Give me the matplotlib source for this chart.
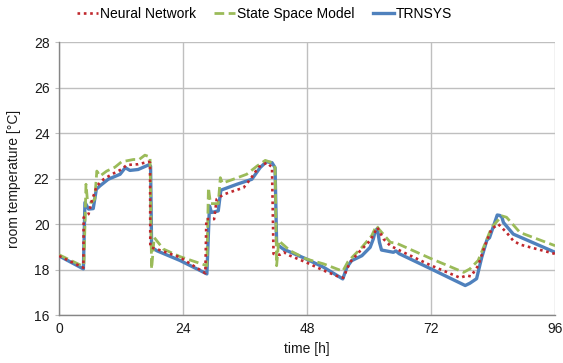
import matplotlib
matplotlib.use('Agg')
import matplotlib.pyplot as plt

# ── Data (time [h], room temperature [°C]) ────────────────────────────────────
trnsys_t = [0, 4.7, 5.0, 5.7, 6.6, 7.2, 7.9, 9.5, 11.8, 12.8, 13.7, 15.3, 17.3, 17.7,
            17.9, 18.9, 23.4, 28.6, 29.1, 29.5, 30.8, 31.3, 34.4, 37.3, 38.9, 40.1,
            41.2, 41.8, 42.1, 43.4, 47.8, 51.2, 54.9, 55.7, 56.6, 58.6, 60.2, 60.8,
            61.2, 61.6, 62.0, 62.4, 64.7, 65.2, 65.8, 71.8, 78.6, 79.5, 80.8, 81.8,
            82.8, 83.3, 84.1, 84.8, 85.3, 85.7, 86.0, 87.9, 96]
trnsys_T = [18.6, 18.03, 20.95, 20.66, 20.68, 21.53, 21.68, 21.97, 22.19, 22.48, 22.36,
            22.4, 22.6, 22.55, 18.98, 18.83, 18.4, 17.81, 20.8, 20.51, 20.58, 21.49,
            21.75, 21.97, 22.48, 22.74, 22.7, 22.48, 19.12, 18.9, 18.47, 18.1, 17.59,
            18.1, 18.39, 18.61, 18.98, 19.34, 19.7, 19.8, 19.2, 18.86, 18.76, 18.82,
            18.7, 18.05, 17.3, 17.4, 17.6, 18.54, 19.3, 19.4, 19.93, 20.4, 20.38,
            20.3, 20.07, 19.56, 18.76]

nn_t = [0, 4.7, 4.75, 5.7, 6.3, 7.3, 8.6, 10.2, 12.1, 13.1, 15.3, 17.3, 17.6, 17.65,
        18.9, 23.4, 28.3, 28.5, 30.0, 30.5, 31.8, 33.7, 35.7, 37.0, 38.6, 40.2, 41.2,
        41.5, 42.7, 43.5, 44.7, 47.8, 51.2, 54.4, 55.0, 56.3, 58.3, 60.2, 61.6, 62.8,
        64.1, 66.0, 71.8, 77.6, 78.9, 79.7, 81.1, 82.4, 83.7, 85.0, 86.6, 87.9, 89.2, 96]
nn_T = [18.6, 18.08, 20.29, 20.44, 21.0, 21.68, 21.97, 22.19, 22.41, 22.6, 22.63, 22.74,
        22.7, 18.98, 18.9, 18.54, 17.84, 20.22, 20.22, 21.1, 21.3, 21.45, 21.6, 21.97,
        22.5, 22.7, 22.5, 18.69, 18.65, 18.76, 18.61, 18.32, 17.96, 17.66, 17.64, 18.32,
        18.83, 19.27, 19.85, 19.34, 19.05, 18.83, 18.2, 17.64, 17.74, 17.7, 18.17, 19.05,
        19.78, 20.0, 19.63, 19.27, 19.1, 18.69]

ssm_t = [0, 4.4, 4.8, 5.2, 5.5, 6.3, 6.9, 7.3, 7.9, 9.2, 10.8, 12.1, 14.4, 15.5, 16.6,
         17.6, 17.9, 18.4, 20.2, 23.4, 28.6, 28.9, 29.3, 30.8, 31.2, 31.6, 33.7, 36.3,
         38.3, 39.9, 41.2, 41.8, 42.1, 42.5, 44.7, 47.8, 51.2, 54.9, 55.9, 58.6, 60.5,
         61.4, 62.0, 64.1, 65.4, 71.8, 78.3, 79.5, 81.1, 82.4, 83.7, 85.7, 86.6, 89.2, 96]
ssm_T = [18.65, 18.17, 18.2, 21.75, 21.0, 20.95, 21.1, 22.33, 22.11, 22.33, 22.5, 22.74,
         22.84, 22.84, 23.03, 22.95, 18.03, 19.41, 18.9, 18.57, 18.17, 21.6, 20.9, 20.9,
         22.04, 21.8, 21.97, 22.19, 22.55, 22.8, 22.7, 22.48, 18.17, 19.27, 18.83, 18.47,
         18.25, 17.93, 18.35, 18.98, 19.49, 19.93, 19.75, 19.2, 19.15, 18.5, 17.88, 18.03,
         18.4, 19.12, 19.85, 20.36, 20.3, 19.63, 19.05]

x_ticks = [0, 24, 48, 72, 96]
y_ticks = [16, 18, 20, 22, 24, 26, 28]

# ── Figure ────────────────────────────────────────────────────────────────────
plt.rcParams['font.family'] = ['Liberation Sans', 'DejaVu Sans']
fig = plt.figure(figsize=(5.63, 3.63), dpi=100)
ax = fig.add_axes([0.105, 0.132, 0.881, 0.752])

grid_c = '#bfbfbf'
ax.plot(trnsys_t, trnsys_T, color='#4f81bd', lw=2.4, label='TRNSYS', zorder=3,
        solid_joinstyle='round')
ax.plot(ssm_t, ssm_T, color='#9bbb59', lw=2.0, ls=(0, (3.5, 1.6)),
        label='State Space Model', zorder=4)
ax.plot(nn_t, nn_T, color='#c0282d', lw=1.9, ls=(0, (1, 1.4)),
        label='Neural Network', zorder=5)

ax.set_xlim(0, 96)
ax.set_ylim(16, 28)
ax.set_xticks(x_ticks)
ax.set_yticks(y_ticks)
ax.grid(True, color=grid_c, lw=1.0)
ax.set_axisbelow(True)
for s in ['top', 'right']:
    ax.spines[s].set_visible(False)
for s in ['left', 'bottom']:
    ax.spines[s].set_color('#868686')
    ax.spines[s].set_linewidth(1.0)
ax.tick_params(axis='y', direction='out', length=3, color='#bfbfbf', labelsize=10,
               labelcolor='#1a1a1a', pad=4)
ax.tick_params(axis='x', length=0, labelsize=10, labelcolor='#1a1a1a', pad=5)
ax.set_xlabel('time [h]', fontsize=10, color='#1a1a1a', labelpad=4)
ax.set_ylabel('room temperature [°C]', fontsize=10, color='#1a1a1a', labelpad=9)

h, l = ax.get_legend_handles_labels()
order = [2, 1, 0]
fig.legend([h[i] for i in order], [l[i] for i in order], loc='center',
           bbox_to_anchor=(0.47, 0.961), ncol=3, frameon=False, fontsize=10,
           handlelength=1.5, handletextpad=0.15, columnspacing=1.3)

plt.savefig('out.png', dpi=100)
